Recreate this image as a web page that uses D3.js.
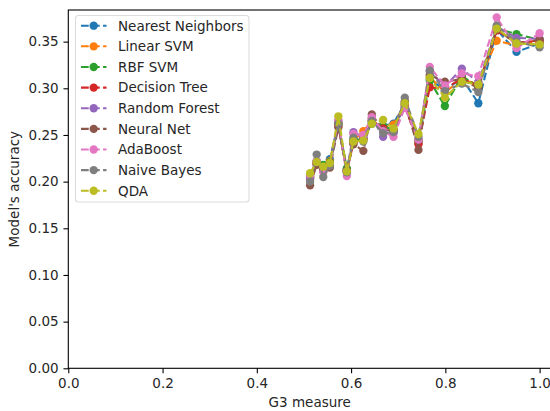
<!DOCTYPE html>
<html>
<head>
<meta charset="utf-8">
<script src="https://cdn.jsdelivr.net/npm/d3@7"></script>
<style>
html,body{margin:0;padding:0;background:#fff;}
svg{display:block;font-family:"DejaVu Sans",sans-serif;}
</style>
</head>
<body>
<svg id="chart" width="550" height="411"></svg>
<script>
const xValues = [0.513,0.527,0.541,0.555,0.573,0.591,0.605,0.626,0.644,0.668,0.690,0.714,0.743,0.767,0.799,0.835,0.870,0.909,0.951,1.000];
const seriesNames = ["Nearest Neighbors","Linear SVM","RBF SVM","Decision Tree","Random Forest","Neural Net","AdaBoost","Naive Bayes","QDA"];
const nearestNeighbors = [.205,.221,.215,.224,.262,.213,.243,.247,.262,.260,.262,.284,.242,.310,.298,.311,.284,.363,.339,.348];
const linearSVM        = [.205,.220,.216,.222,.263,.212,.244,.254,.265,.258,.261,.283,.243,.312,.296,.309,.305,.351,.346,.350];
const rbfSVM           = [.206,.221,.218,.221,.262,.214,.245,.245,.264,.259,.256,.282,.244,.308,.281,.313,.302,.364,.358,.352];
const decisionTree     = [.203,.219,.214,.220,.260,.211,.242,.246,.266,.257,.254,.281,.240,.301,.300,.310,.303,.362,.349,.351];
const randomForest     = [.204,.222,.214,.219,.265,.210,.253,.248,.268,.248,.252,.285,.245,.318,.302,.321,.306,.366,.354,.353];
const neuralNet        = [.196,.218,.212,.215,.258,.212,.240,.233,.272,.255,.255,.286,.234,.314,.307,.310,.300,.363,.348,.352];
const adaBoost         = [.207,.222,.210,.218,.266,.206,.251,.250,.269,.254,.248,.279,.245,.323,.303,.316,.313,.376,.343,.359];
const naiveBayes       = [.200,.229,.205,.217,.262,.210,.247,.243,.265,.252,.253,.290,.248,.319,.297,.305,.296,.367,.350,.344];
const qda              = [.209,.221,.216,.220,.270,.211,.243,.244,.262,.266,.257,.284,.251,.311,.290,.307,.304,.364,.348,.347];
const seriesValues = [nearestNeighbors,linearSVM,rbfSVM,decisionTree,randomForest,neuralNet,adaBoost,naiveBayes,qda];
const colors = ["#1f77b4","#ff7f0e","#2ca02c","#d62728","#9467bd","#8c564b","#e377c2","#7f7f7f","#bcbd22"];
const xTicks = [0.0,0.2,0.4,0.6,0.8,1.0];
const yTicks = [0.00,0.05,0.10,0.15,0.20,0.25,0.30,0.35];

const FS = "13.5px";
const svg = d3.select("#chart");
const L = 68.3, R = 551.1, T = 10, B = 368.3;
const x = d3.scaleLinear().domain([0, 1.0244]).range([L, R]);
const y = d3.scaleLinear().domain([0, 0.3839]).range([B, T]);

const plot = svg.append("g");
const line = d3.line().x((d,i)=>x(xValues[i])).y(d=>y(d));
seriesValues.forEach((vals, k) => {
  const g = plot.append("g");
  g.append("path").attr("d", line(vals)).attr("fill","none")
    .attr("stroke", colors[k]).attr("stroke-width", 2.08)
    .attr("stroke-dasharray","7.7,3.33");
  g.selectAll("circle").data(vals).join("circle")
    .attr("cx",(d,i)=>x(xValues[i])).attr("cy",d=>y(d)).attr("r",4.17)
    .attr("fill", colors[k]);
});

// axes
const xAxis = d3.axisBottom(x).tickValues(xTicks).tickFormat(d3.format(".1f")).tickSize(4.86).tickPadding(4.8);
const yAxis = d3.axisLeft(y).tickValues(yTicks).tickFormat(d3.format(".2f")).tickSize(4.86).tickPadding(4.8);
const gx = svg.append("g").attr("transform",`translate(0,${B})`).call(xAxis);
const gy = svg.append("g").attr("transform",`translate(${L},0)`).call(yAxis);
[gx,gy].forEach(g=>{
  g.select(".domain").remove();
  g.selectAll("line").attr("stroke","#000").attr("stroke-width",1.1);
  g.selectAll("text").attr("font-family","DejaVu Sans").attr("font-size",FS).attr("fill","#262626");
});
// spines
svg.append("rect").attr("x",L).attr("y",T).attr("width",R-L).attr("height",B-T)
  .attr("fill","none").attr("stroke","#000").attr("stroke-width",1.1);

svg.append("text").attr("x",(L+R)/2).attr("y",407).attr("text-anchor","middle")
  .attr("font-size",FS).attr("fill","#262626").text("G3 measure");
svg.append("text").attr("transform",`translate(19,${(T+B)/2}) rotate(-90)`).attr("text-anchor","middle")
  .attr("font-size",FS).attr("fill","#262626").text("Model's accuracy");

// legend
const lg = svg.append("g");
lg.append("rect").attr("x",75.5).attr("y",15.5).attr("width",173.5).attr("height",186.5)
  .attr("rx",3).attr("fill","#fff").attr("fill-opacity",0.8).attr("stroke","#dcdcdc").attr("stroke-width",1.1);
seriesNames.forEach((name,k)=>{
  const cy = 25.7 + k*20.63;
  lg.append("line").attr("x1",81).attr("x2",106.5).attr("y1",cy).attr("y2",cy)
    .attr("stroke",colors[k]).attr("stroke-width",2.08).attr("stroke-dasharray","7.7,3.33");
  lg.append("circle").attr("cx",93.7).attr("cy",cy).attr("r",4.17).attr("fill",colors[k]);
  lg.append("text").attr("x",118).attr("y",cy).attr("dy","0.36em")
    .attr("font-size",FS).attr("fill","#262626").text(name);
});
</script>
</body>
</html>
